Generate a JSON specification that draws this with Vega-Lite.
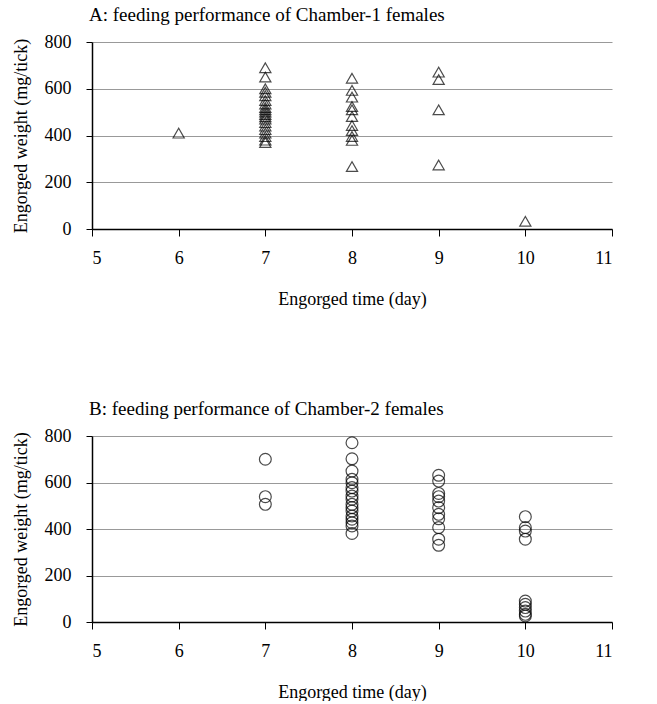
{
  "$schema": "https://vega.github.io/schema/vega-lite/v6.json",
  "background": "white",
  "padding": {"left": 12, "top": 6, "right": 5, "bottom": 0},
  "spacing": 92,
  "config": {
    "font": "Liberation Serif",
    "view": {"stroke": null},
    "axis": {
      "labelFont": "Liberation Serif", "titleFont": "Liberation Serif",
      "labelFontSize": 18, "titleFontSize": 18, "titleFontWeight": "normal",
      "labelColor": "black", "titleColor": "black",
      "domainColor": "black", "tickColor": "black", "domainWidth": 1.5,
      "gridColor": "#999999", "gridWidth": 1
    },
    "title": {"font": "Liberation Serif", "fontSize": 19, "fontWeight": "normal", "color": "black", "anchor": "start", "frame": "group", "offset": 8, "dx": -3}
  },
  "datasets": {
    "a": [
      {"day": 6, "w": 410},
      {"day": 7, "w": 690}, {"day": 7, "w": 650}, {"day": 7, "w": 600}, {"day": 7, "w": 585},
      {"day": 7, "w": 570}, {"day": 7, "w": 550}, {"day": 7, "w": 535}, {"day": 7, "w": 520},
      {"day": 7, "w": 510}, {"day": 7, "w": 500}, {"day": 7, "w": 490}, {"day": 7, "w": 480},
      {"day": 7, "w": 470}, {"day": 7, "w": 455}, {"day": 7, "w": 440}, {"day": 7, "w": 425},
      {"day": 7, "w": 410}, {"day": 7, "w": 395}, {"day": 7, "w": 380}, {"day": 7, "w": 370},
      {"day": 8, "w": 645}, {"day": 8, "w": 593}, {"day": 8, "w": 564}, {"day": 8, "w": 524},
      {"day": 8, "w": 510}, {"day": 8, "w": 481}, {"day": 8, "w": 443}, {"day": 8, "w": 421},
      {"day": 8, "w": 396}, {"day": 8, "w": 379}, {"day": 8, "w": 267},
      {"day": 9, "w": 671}, {"day": 9, "w": 639}, {"day": 9, "w": 510}, {"day": 9, "w": 274},
      {"day": 10, "w": 33}
    ],
    "b": [
      {"day": 7, "w": 700}, {"day": 7, "w": 539}, {"day": 7, "w": 506},
      {"day": 8, "w": 771}, {"day": 8, "w": 702}, {"day": 8, "w": 649}, {"day": 8, "w": 614},
      {"day": 8, "w": 599}, {"day": 8, "w": 578}, {"day": 8, "w": 563}, {"day": 8, "w": 542},
      {"day": 8, "w": 528}, {"day": 8, "w": 506}, {"day": 8, "w": 492}, {"day": 8, "w": 477},
      {"day": 8, "w": 456}, {"day": 8, "w": 442}, {"day": 8, "w": 427}, {"day": 8, "w": 413},
      {"day": 8, "w": 381},
      {"day": 9, "w": 631}, {"day": 9, "w": 606}, {"day": 9, "w": 553}, {"day": 9, "w": 539},
      {"day": 9, "w": 520}, {"day": 9, "w": 492}, {"day": 9, "w": 463}, {"day": 9, "w": 444},
      {"day": 9, "w": 406}, {"day": 9, "w": 356}, {"day": 9, "w": 330},
      {"day": 10, "w": 453}, {"day": 10, "w": 406}, {"day": 10, "w": 391}, {"day": 10, "w": 356},
      {"day": 10, "w": 90}, {"day": 10, "w": 76}, {"day": 10, "w": 62}, {"day": 10, "w": 47},
      {"day": 10, "w": 33}, {"day": 10, "w": 26}
    ]
  },
  "vconcat": [
    {
      "title": "A: feeding performance of Chamber-1 females",
      "width": 520, "height": 187,
      "data": {"name": "a"},
      "mark": {"type": "point", "shape": "triangle-up", "filled": false, "stroke": "black", "strokeWidth": 1.2, "size": 125},
      "encoding": {
        "x": {"field": "day", "type": "quantitative", "title": "Engorged time (day)",
              "scale": {"domain": [5, 11], "nice": false},
              "axis": {"values": [5, 6, 7, 8, 9, 10, 11], "grid": false, "tickSize": 7, "labelPadding": 13, "titlePadding": 23}},
        "y": {"field": "w", "type": "quantitative", "title": "Engorged weight (mg/tick)",
              "scale": {"domain": [0, 800], "nice": false},
              "axis": {"values": [0, 200, 400, 600, 800], "tickSize": 6, "labelPadding": 15, "titlePadding": 14}}
      }
    },
    {
      "title": "B: feeding performance of Chamber-2 females",
      "width": 520, "height": 186,
      "data": {"name": "b"},
      "mark": {"type": "point", "shape": "circle", "filled": false, "stroke": "black", "strokeWidth": 1.2, "size": 140},
      "encoding": {
        "x": {"field": "day", "type": "quantitative", "title": "Engorged time (day)",
              "scale": {"domain": [5, 11], "nice": false},
              "axis": {"values": [5, 6, 7, 8, 9, 10, 11], "grid": false, "tickSize": 7, "labelPadding": 13, "titlePadding": 23}},
        "y": {"field": "w", "type": "quantitative", "title": "Engorged weight (mg/tick)",
              "scale": {"domain": [0, 800], "nice": false},
              "axis": {"values": [0, 200, 400, 600, 800], "tickSize": 6, "labelPadding": 15, "titlePadding": 14}}
      }
    }
  ]
}
